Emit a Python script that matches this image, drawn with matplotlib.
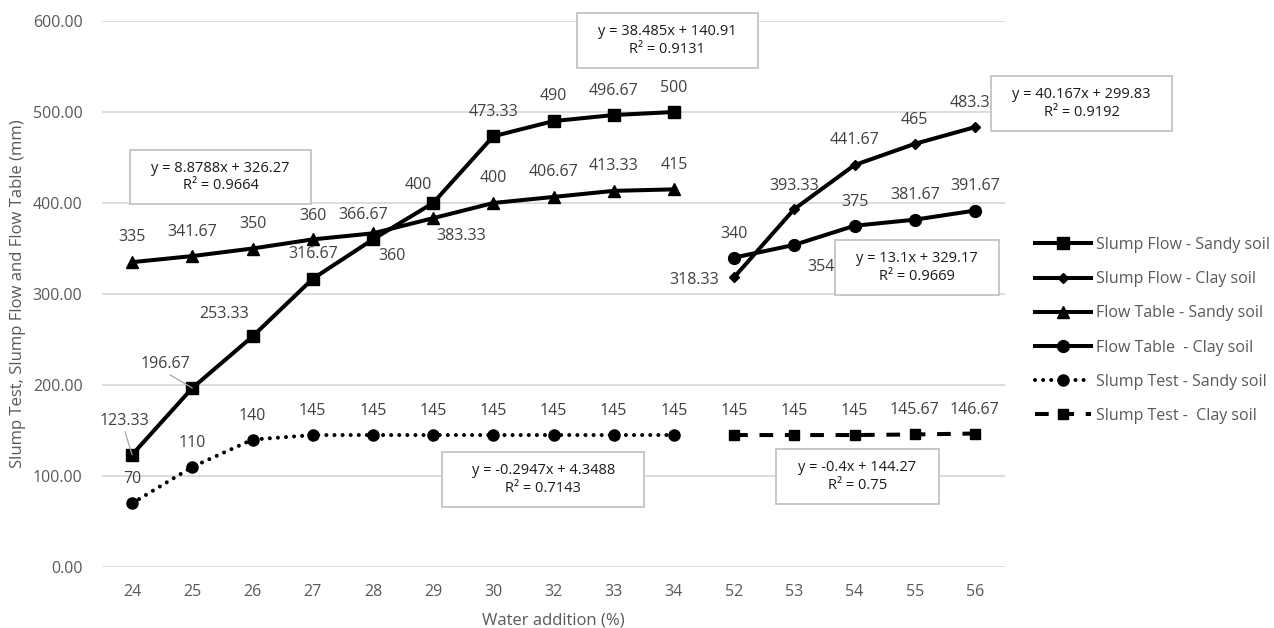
import matplotlib
matplotlib.use("Agg")
import matplotlib.pyplot as plt
from matplotlib.patches import Rectangle

plt.rcParams["font.family"] = ["Open Sans", "DejaVu Sans"]

# categories (water addition %)
water = ["24", "25", "26", "27", "28", "29", "30", "32", "33", "34",
         "52", "53", "54", "55", "56"]
sandy_idx = list(range(0, 10))
clay_idx = list(range(10, 15))

slump_flow_sandy = [123.33, 196.67, 253.33, 316.67, 360, 400, 473.33, 490, 496.67, 500]
slump_flow_clay = [318.33, 393.33, 441.67, 465, 483.33]
flow_table_sandy = [335, 341.67, 350, 360, 366.67, 383.33, 400, 406.67, 413.33, 415]
flow_table_clay = [340, 354, 375, 381.67, 391.67]
slump_test_sandy = [70, 110, 140, 145, 145, 145, 145, 145, 145, 145]
slump_test_clay = [145, 145, 145, 145.67, 146.67]

series_names = ["Slump Flow - Sandy soil", "Slump Flow - Clay soil",
                "Flow Table - Sandy soil", "Flow Table  - Clay soil",
                "Slump Test - Sandy soil", "Slump Test -  Clay soil"]

trend_texts = ["y = 8.8788x + 326.27\nR² = 0.9664",
               "y = 38.485x + 140.91\nR² = 0.9131",
               "y = 40.167x + 299.83\nR² = 0.9192",
               "y = 13.1x + 329.17\nR² = 0.9669",
               "y = -0.2947x + 4.3488\nR² = 0.7143",
               "y = -0.4x + 144.27\nR² = 0.75"]

# label offsets in pixels (dx, dy)
off_sf_sandy = [(-8, 34), (-27, 24), (-28, 22), (0, 25), (19, -17), (-15, 18),
                (0, 24), (0, 25), (0, 24), (0, 24)]
off_sf_clay = [(-40, -3), (0, 23), (0, 25), (0, 24), (0, 24)]
off_ft_sandy = [(0, 25), (0, 24), (0, 24), (0, 23), (-10, 18), (28, -18),
                (0, 25), (0, 25), (0, 25), (0, 24)]
off_ft_clay = [(0, 24), (27, -22), (0, 24), (0, 25), (0, 25)]
off_st = [(0, 24)] * 10

# trendline box centres (category index, value) and sizes (categories, value units)
box_pos = [(1.47, 428.6), (8.89, 578.6), (15.77, 509.3),
           (13.04, 329.1), (6.83, 96.2), (12.05, 99.5)]
box_size = [(3.0, 60), (3.0, 60), (3.0, 60), (2.73, 60), (3.36, 60), (2.71, 60)]

W, H = 1274, 628
fig = plt.figure(figsize=(W / 100, H / 100), dpi=100)
ax = fig.add_axes([102 / W, (H - 567) / H, 903 / W, (567 - 21) / H])

lw = 2.9
ax.plot(sandy_idx, slump_flow_sandy, color="black", lw=lw, marker="s", ms=8.5,
        label=series_names[0], zorder=3)
ax.plot(clay_idx, slump_flow_clay, color="black", lw=lw, marker="D", ms=5.5,
        label=series_names[1], zorder=3)
ax.plot(sandy_idx, flow_table_sandy, color="black", lw=lw, marker="^", ms=8.5,
        label=series_names[2], zorder=3)
ax.plot(clay_idx, flow_table_clay, color="black", lw=lw, marker="o", ms=8.5,
        label=series_names[3], zorder=3)
ax.plot(sandy_idx, slump_test_sandy, color="black", lw=lw, marker="o", ms=8,
        linestyle=(0, (0.01, 2.0)), dash_capstyle="round",
        label=series_names[4], zorder=3)
ax.plot(clay_idx, slump_test_clay, color="black", lw=lw, marker="s", ms=7.5,
        linestyle=(0, (3.4, 2.9)), label=series_names[5], zorder=3)

ax.set_xlim(-0.5, 14.5)
ax.set_ylim(0, 600)
ax.set_xticks(range(len(water)))
ax.set_xticklabels(water)
ax.set_yticks(range(0, 601, 100))
ax.set_yticklabels([f"{v:.2f}" for v in range(0, 601, 100)])
ax.tick_params(length=0, labelsize=11.5, colors="#595959")
ax.tick_params(axis="x", pad=12)
ax.tick_params(axis="y", pad=14)
ax.grid(axis="y", color="#d9d9d9", lw=1.3)
ax.set_axisbelow(True)
for s in ax.spines.values():
    s.set_visible(False)

ax.set_xlabel("Water addition (%)", fontsize=12, color="#595959", labelpad=9)
ax.set_ylabel("Slump Test, Slump Flow and Flow Table (mm)", fontsize=12,
              color="#595959", labelpad=5)


def add_labels(xs, ys, offsets, leaders=()):
    for k, (x, y, (dx, dy)) in enumerate(zip(xs, ys, offsets)):
        kw = {}
        if k in leaders:
            kw["arrowprops"] = dict(arrowstyle="-", color="#a6a6a6", lw=0.9,
                                    shrinkA=0, shrinkB=0, relpos=(0.5, 0.0))
        ax.annotate(f"{y:g}", (x, y), xytext=(dx, dy), textcoords="offset pixels",
                    ha="center", va="center", fontsize=11.5, color="#404040",
                    zorder=4, **kw)


add_labels(sandy_idx, slump_flow_sandy, off_sf_sandy, leaders=(0, 1))
add_labels(clay_idx, slump_flow_clay, off_sf_clay)
add_labels(sandy_idx, flow_table_sandy, off_ft_sandy)
add_labels(clay_idx, flow_table_clay, off_ft_clay)
add_labels(sandy_idx, slump_test_sandy, off_st)
add_labels(clay_idx, slump_test_clay, off_st[:5])

for txt, (bx, by), (bw, bh) in zip(trend_texts, box_pos, box_size):
    ax.add_patch(Rectangle((bx - bw / 2, by - bh / 2), bw, bh, facecolor="white",
                           edgecolor="#bfbfbf", lw=1.2, zorder=6, clip_on=False))
    ax.text(bx, by, txt, ha="center", va="center", fontsize=10.5, color="#1a1a1a",
            linespacing=1.2, zorder=7, clip_on=False)

fig.legend(loc="upper left", bbox_to_anchor=(1035 / W, 1 - 237 / H),
           frameon=False, fontsize=11.5, labelcolor="#595959", handlelength=3.5,
           handletextpad=0.3, labelspacing=1.14, borderpad=0, borderaxespad=0)

fig.savefig("out.png", dpi=100, facecolor="white")
